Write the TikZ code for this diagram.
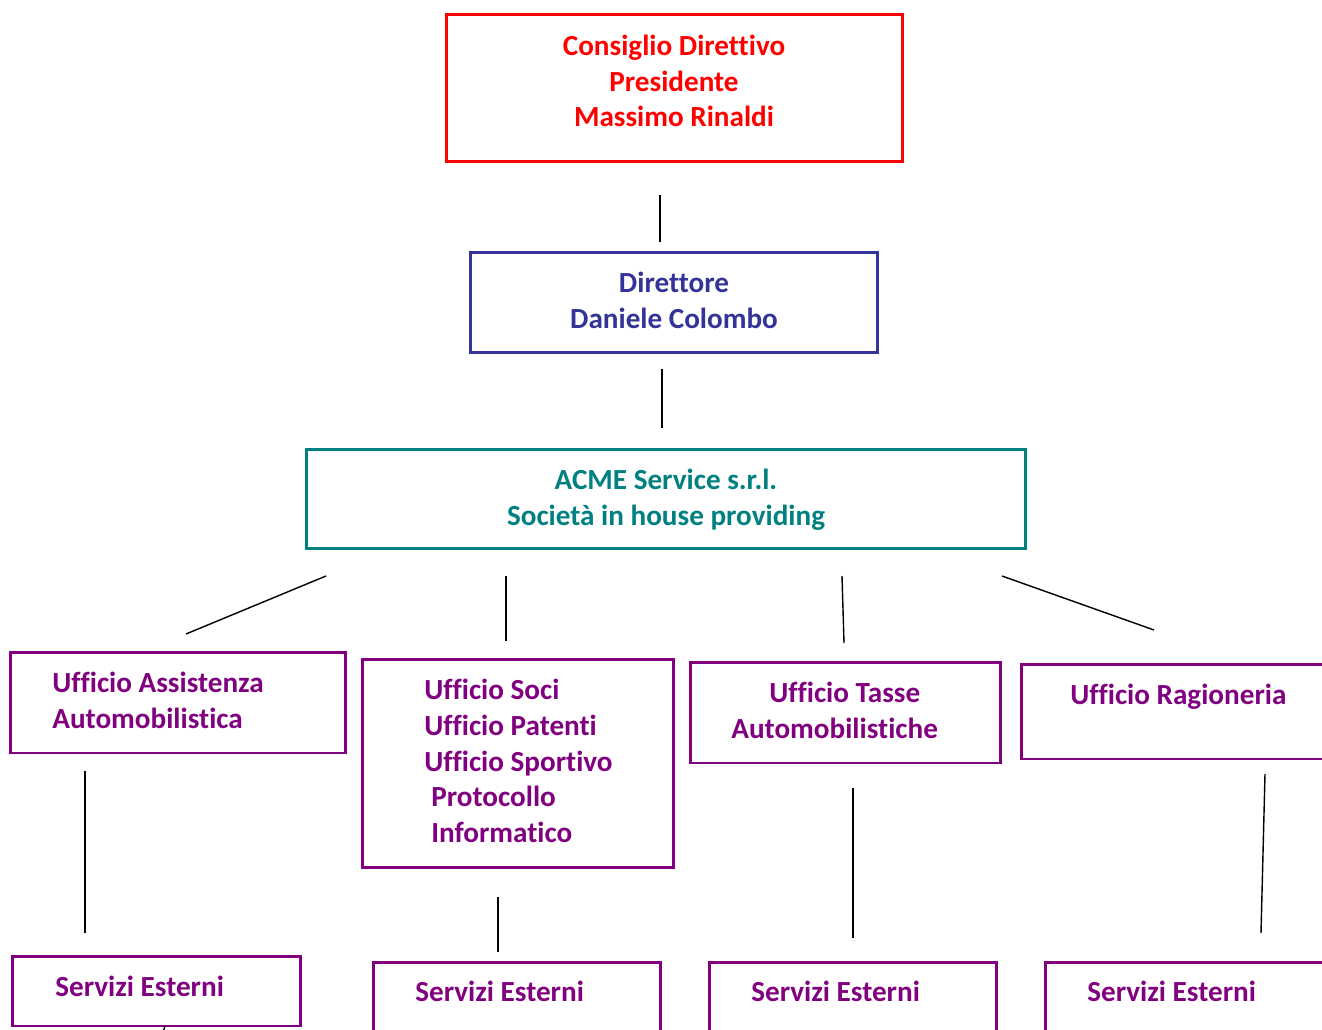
\documentclass[tikz,border=0pt]{standalone}
\usepackage{fontspec}
\setmainfont{Carlito}[Ligatures=NoCommon]
\definecolor{cred}{RGB}{255,0,0}
\definecolor{cblue}{RGB}{51,51,153}
\definecolor{cteal}{RGB}{0,128,128}
\definecolor{cpurp}{RGB}{128,0,128}
\begin{document}
\begin{tikzpicture}[x=0.02cm,y=-0.02cm,
  box/.style={draw, line width=1.7pt, inner sep=0pt, outer sep=0pt},
  lbl/.style={font=\fontsize{16.6}{20.4}\selectfont\bfseries, inner sep=0pt},
  conn/.style={line width=0.8pt, black}]
\useasboundingbox (0,0) rectangle (1322,1030);
\clip (0,0) rectangle (1322,1030);
% boxes
\node[box,draw=cred,minimum width=9.14cm,minimum height=2.96cm] (red) at (674.5,88) {};
\node[box,draw=cblue,minimum width=8.16cm,minimum height=2.02cm] (blue) at (674,302.5) {};
\node[box,draw=cteal,minimum width=14.4cm,minimum height=2.0cm] (teal) at (666,499) {};
\node[box,draw=cpurp,minimum width=6.72cm,minimum height=2.02cm] (b1) at (178,702.5) {};
\node[box,draw=cpurp,minimum width=6.24cm,minimum height=4.18cm] (b2) at (518,763.5) {};
\node[box,draw=cpurp,minimum width=6.22cm,minimum height=2.02cm] (b3) at (845.5,712.5) {};
\node[box,draw=cpurp,minimum width=6.38cm,minimum height=1.9cm] (b4) at (1180.5,711.5) {};
\node[box,draw=cpurp,minimum width=5.78cm,minimum height=1.4cm] (s1) at (156.5,991) {};
\node[box,draw=cpurp,minimum width=5.76cm,minimum height=1.76cm] (s2) at (517,1006) {};
\node[box,draw=cpurp,minimum width=5.76cm,minimum height=1.76cm] (s3) at (853,1006) {};
\node[box,draw=cpurp,minimum width=6.3cm,minimum height=1.76cm] (s4) at (1202.5,1006) {};
% texts
\node[lbl,text=cred,align=center] (t0) at (674,81) {Consiglio Direttivo\\Presidente\\Massimo Rinaldi};
\node[lbl,text=cblue,align=center] (t1) at (674,300) {Direttore\\Daniele Colombo};
\node[lbl,text=cteal,align=center] (t2) at (666,500) {ACME Service s.r.l.\\Società in house providing};
\node[lbl,text=cpurp,align=left,anchor=west] (t3) at (52,700) {Ufficio Assistenza\\Automobilistica};
\node[lbl,text=cpurp,align=left,anchor=west] (t4) at (424,761) {Ufficio Soci\\Ufficio Patenti\\Ufficio Sportivo\\\hspace*{0.14cm}Protocollo\\\hspace*{0.14cm}Informatico};
\node[lbl,text=cpurp,align=left,anchor=west] (t5) at (731,710) {\hspace*{0.76cm}Ufficio Tasse\\Automobilistiche};
\node[lbl,text=cpurp,anchor=mid west] (t6) at (1070,700) {Ufficio Ragioneria};
\node[lbl,text=cpurp,anchor=mid west] (u1) at (55,992) {Servizi Esterni};
\node[lbl,text=cpurp,anchor=mid west] (u2) at (415,997) {Servizi Esterni};
\node[lbl,text=cpurp,anchor=mid west] (u3) at (751,997) {Servizi Esterni};
\node[lbl,text=cpurp,anchor=mid west] (u4) at (1087,997) {Servizi Esterni};
% connector end points
\coordinate (c1a) at (660,195); \coordinate (c1b) at (660,242);
\coordinate (c2a) at (662,369); \coordinate (c2b) at (662,428);
\coordinate (c3a) at (326,576); \coordinate (c3b) at (186,634);
\coordinate (c4a) at (506,576); \coordinate (c4b) at (506,641);
\coordinate (c5a) at (842,576); \coordinate (c5b) at (844,643);
\coordinate (c6a) at (1002,576); \coordinate (c6b) at (1154,630);
\coordinate (c7a) at (85,771); \coordinate (c7b) at (85,933);
\coordinate (c8a) at (498,897); \coordinate (c8b) at (498,952);
\coordinate (c9a) at (853,788); \coordinate (c9b) at (853,938);
\coordinate (c10a) at (1265,774); \coordinate (c10b) at (1261,933);
\coordinate (c11a) at (165,1026); \coordinate (c11b) at (163,1032);
\foreach \i in {1,...,11} \draw[conn] (c\i a) -- (c\i b);
\end{tikzpicture}
\end{document}
